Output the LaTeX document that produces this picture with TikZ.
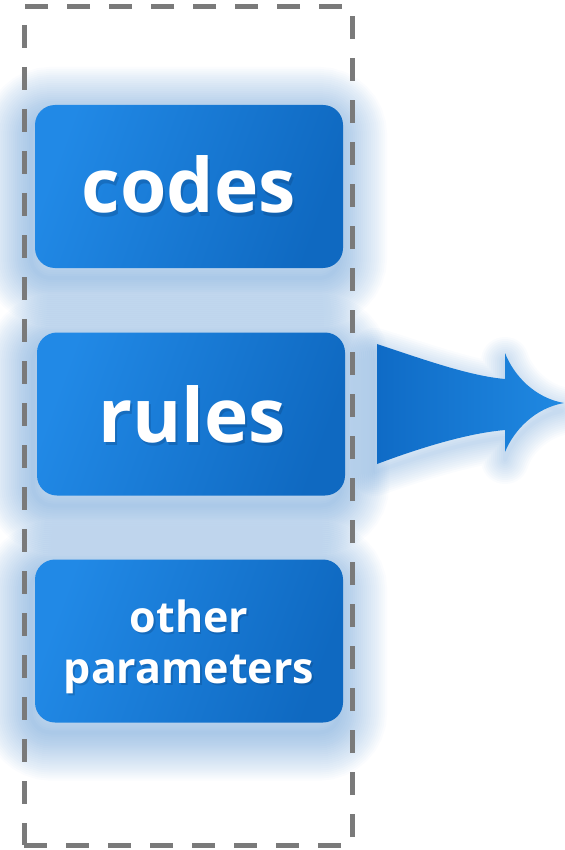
\documentclass[tikz,border=0pt]{standalone}
\usepackage{fontspec}
\setmainfont{Open Sans}
\definecolor{boxlight}{HTML}{2189E6}
\definecolor{boxdark}{HTML}{0F69C1}
\definecolor{shadowblue}{HTML}{2170C2}
\definecolor{dashgray}{HTML}{7A7A7A}
\definecolor{arrowdark}{HTML}{0F6BC6}
\definecolor{arrowlight}{HTML}{2089E2}
\definecolor{txtshadow}{HTML}{0A3F78}
\begin{document}
\begin{tikzpicture}[x=1pt,y=-1pt,
  boxstyle/.style={rounded corners=20pt, minimum width=308pt, minimum height=163pt,
    inner sep=0pt, top color=boxlight, bottom color=boxdark, shading angle=70},
  frame/.style={draw=dashgray, line width=5pt, dash pattern=on 23pt off 19pt,
    minimum width=328pt, minimum height=838pt, inner sep=0pt},
  glowline/.style={draw=shadowblue, opacity=0.02, rounded corners=20pt},
  bigfont/.style={font=\bfseries\fontsize{75}{90}\selectfont},
  smallfont/.style={font=\bfseries\fontsize{43}{51}\selectfont},
  lbl/.style={text=white, anchor=base},
  lblshadow/.style={text=txtshadow, anchor=base, opacity=0.3},
]
\useasboundingbox (0,0) rectangle (564,850);
% soft shadows of boxes
\foreach \cx/\cy in {189/186.5, 191/414, 189/641}{
  \foreach \w in {4,8,...,96}{
    \draw[glowline, line width=\w pt] (\cx-158,\cy-71.5) rectangle (\cx+150,\cy+91.5);
  }
}
% soft shadow of arrow
\foreach \w in {4,8,...,48}{
  \draw[draw=shadowblue, opacity=0.022, line width=\w pt, line join=round]
    (375,352) .. controls (420,366) and (470,384) .. (505,387) -- (505,361)
    .. controls (512,383) and (535,406) .. (562,411)
    .. controls (535,416) and (512,438) .. (505,460) -- (505,438)
    .. controls (470,441) and (420,456) .. (375,472) -- cycle;
}
% dashed group frame
\node[frame] (group) at (188,426) {};
% boxes
\node[boxstyle] (codes) at (189,186.5) {};
\node[boxstyle] (rules) at (191,414) {};
\node[boxstyle] (other) at (189,641) {};
% arrow
\shade[left color=arrowdark, right color=arrowlight]
  (377,344) .. controls (425,360) and (470,376) .. (505,379) -- (505,353)
  .. controls (514,376) and (535,398) .. (564,403)
  .. controls (535,408) and (514,430) .. (505,452) -- (505,430)
  .. controls (470,433) and (425,446) .. (377,464) -- cycle;
% label shadows
\node[lblshadow, bigfont] (scodes) at (191,216) {codes};
\node[lblshadow, bigfont] (srules) at (194,445) {rules};
\node[lblshadow, smallfont] (sother) at (190.5,634) {other};
\node[lblshadow, smallfont] (sparam) at (190.5,685) {parameters};
% labels
\node[lbl, bigfont] (tcodes) at (189,213) {codes};
\node[lbl, bigfont] (trules) at (192,442) {rules};
\node[lbl, smallfont] (tother) at (189,632) {other};
\node[lbl, smallfont] (tparam) at (189,683) {parameters};
\end{tikzpicture}
\end{document}
